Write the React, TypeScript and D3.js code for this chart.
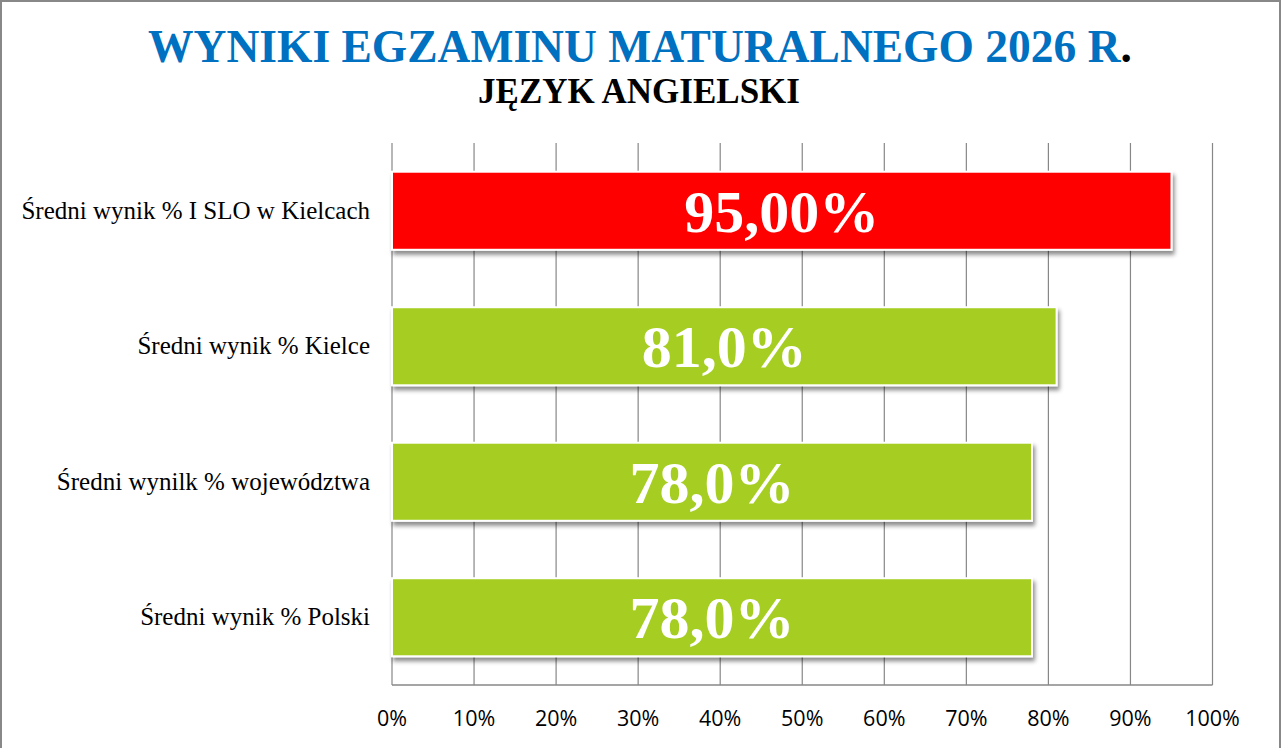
import React from "react";
import * as d3 from "d3";

const categories = [
  "Średni wynik % I SLO w Kielcach",
  "Średni wynik % Kielce",
  "Średni wynilk % województwa",
  "Średni wynik % Polski",
];
const values = [0.95, 0.81, 0.78, 0.78];
const valueLabels = ["95,00%", "81,0%", "78,0%", "78,0%"];
const barColors = ["#FF0000", "#A6CE22", "#A6CE22", "#A6CE22"];
const ticks = [0, 0.1, 0.2, 0.3, 0.4, 0.5, 0.6, 0.7, 0.8, 0.9, 1.0];
const title = "WYNIKI EGZAMINU MATURALNEGO 2026 R";
const subtitle = "JĘZYK ANGIELSKI";

const W = 1281;
const H = 748;
const plot = { left: 392, right: 1212.5, top: 143, bottom: 685 };

export default function App() {
  const x = d3.scaleLinear().domain([0, 1]).range([plot.left, plot.right]);
  const y = d3
    .scaleBand<string>()
    .domain(categories)
    .range([plot.top, plot.bottom])
    .paddingInner(0.424)
    .paddingOuter(0.212);
  const serif = "'Liberation Serif', 'Times New Roman', serif";
  return (
    <svg
      width={W}
      height={H}
      style={{ position: "absolute", left: 0, top: 0, display: "block", background: "#fff" }}
    >
      <defs>
        <filter id="shadow" x="-5%" y="-20%" width="115%" height="160%">
          <feDropShadow dx="2" dy="4" stdDeviation="2.2" floodColor="#000" floodOpacity="0.45" />
        </filter>
      </defs>
      <rect x={1} y={1} width={W - 2} height={H + 10} fill="#fff" stroke="#888" strokeWidth={2} />
      <text
        x={640}
        y={62}
        textAnchor="middle"
        fontFamily={serif}
        fontWeight="bold"
        fontSize={45.5}
        fill="#0070C0"
      >
        {title}
        <tspan fill="#000">.</tspan>
      </text>
      <text
        x={639}
        y={103}
        textAnchor="middle"
        fontFamily={serif}
        fontWeight="bold"
        fontSize={35}
        fill="#000"
      >
        {subtitle}
      </text>
      {ticks.map((t) => (
        <line
          key={"g" + t}
          x1={x(t)}
          x2={x(t)}
          y1={plot.top}
          y2={plot.bottom}
          stroke="#878787"
          strokeWidth={1.2}
        />
      ))}
      <line x1={plot.left} x2={plot.right} y1={plot.bottom} y2={plot.bottom} stroke="#878787" strokeWidth={1.5} />
      {ticks.map((t) => (
        <text
          key={"t" + t}
          x={x(t)}
          y={726}
          textAnchor="middle"
          fontFamily="'Open Sans', sans-serif"
          fontSize={21.5}
          fill="#000"
        >
          {Math.round(t * 100) + "%"}
        </text>
      ))}
      {categories.map((c, i) => {
        const by = y(c)!;
        const bh = y.bandwidth();
        return (
          <g key={c}>
            <rect
              x={x(0)}
              y={by}
              width={x(values[i]) - x(0)}
              height={bh}
              fill={barColors[i]}
              stroke="#fff"
              strokeWidth={2}
              filter="url(#shadow)"
            />
            <text
              x={(x(0) + x(values[i])) / 2}
              y={by + bh / 2 + 21}
              textAnchor="middle"
              fontFamily={serif}
              fontWeight="bold"
              fontSize={60}
              fill="#fff"
            >
              {valueLabels[i]}
            </text>
            <text
              x={370}
              y={by + bh / 2 + 8}
              textAnchor="end"
              fontFamily={serif}
              fontSize={25}
              fill="#000"
            >
              {c}
            </text>
          </g>
        );
      })}
    </svg>
  );
}
